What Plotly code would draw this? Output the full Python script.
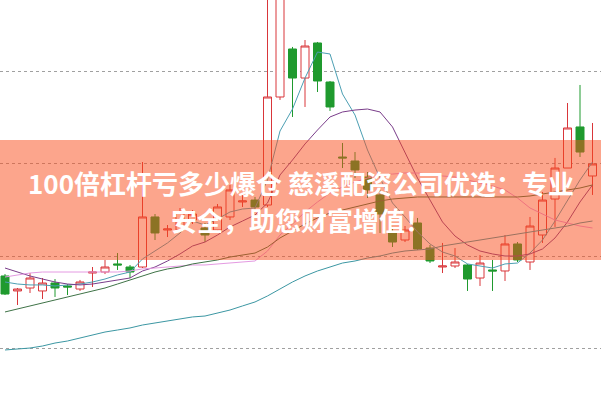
import plotly.graph_objects as go

# ---------------- data ----------------
days = list(range(48))

open_ = [17.84, 16.22, 16.54, 16.22, 17.08, 16.76, 16.43, 18.16, 18.27, 19.14,
         18.81, 18.81, 24.22, 22.81, 22.81, 23.89, 23.03, 22.81, 24.22, 25.84,
         26.05, 25.51, 37.19, 42.38, 39.24, 43.03, 38.81, 30.70, 30.27, 28.54,
         26.60, 22.60, 21.73, 23.57, 20.86, 18.81, 18.92, 19.03, 17.62, 18.49,
         18.38, 21.30, 19.35, 22.27, 26.16, 29.51, 33.95, 28.65]
close = [15.89, 16.43, 17.62, 17.08, 16.54, 16.65, 17.19, 18.27, 18.81, 19.03,
         18.27, 24.22, 22.49, 22.92, 24.76, 24.54, 22.27, 25.30, 27.14, 25.95,
         25.30, 37.19, 52.00, 39.24, 42.70, 38.92, 36.11, 30.60, 29.30, 27.14,
         24.54, 21.51, 22.81, 20.76, 19.46, 18.92, 19.35, 17.51, 19.24, 18.38,
         21.30, 19.57, 23.24, 26.05, 29.51, 33.84, 31.24, 29.95]
high = [18.05, 16.54, 18.16, 17.62, 17.51, 16.97, 17.41, 18.81, 19.57, 20.32,
        19.03, 30.16, 24.54, 23.35, 25.19, 24.97, 23.57, 25.62, 27.68, 26.60,
        26.38, 50.38, 53.08, 42.60, 43.35, 43.14, 38.92, 32.22, 31.24, 29.08,
        27.14, 23.14, 23.24, 24.11, 21.19, 21.41, 20.86, 19.14, 20.11, 19.57,
        22.27, 21.51, 24.22, 26.92, 30.60, 36.54, 38.49, 34.38]
low = [15.78, 14.70, 16.00, 15.35, 15.57, 15.78, 16.22, 16.65, 18.05, 18.49,
       17.62, 18.70, 21.73, 22.05, 22.60, 23.46, 21.51, 22.60, 23.89, 25.30,
       24.97, 25.30, 36.87, 35.03, 36.11, 37.73, 35.68, 29.51, 28.43, 26.27,
       22.49, 20.97, 21.51, 20.65, 19.24, 18.16, 18.70, 16.22, 16.76, 16.22,
       17.30, 19.35, 18.49, 21.41, 23.14, 29.51, 30.70, 26.60]

ma5 = [17.19, 16.97, 16.87, 16.87, 16.76, 16.87, 16.97, 17.19, 17.51, 17.95,
       18.27, 19.68, 20.54, 21.41, 22.49, 23.78, 23.35, 24.00, 24.76, 25.08,
       25.19, 28.22, 33.51, 35.89, 39.24, 42.05, 41.84, 37.51, 35.24, 31.46,
       28.43, 25.73, 24.22, 22.60, 21.30, 20.43, 20.00, 19.14, 18.92, 18.70,
       19.14, 19.24, 20.32, 21.73, 23.78, 26.05, 28.22, 30.16]
ma10 = [18.70, 18.27, 17.84, 17.51, 17.19, 16.97, 16.87, 16.97, 17.19, 17.41,
        17.62, 18.38, 18.81, 19.46, 20.22, 21.08, 21.51, 22.27, 23.14, 23.78,
        24.43, 25.73, 28.76, 30.38, 32.11, 33.62, 35.03, 35.57, 35.78, 35.89,
        35.57, 33.95, 31.14, 28.43, 26.05, 23.68, 22.16, 21.19, 20.54, 20.22,
        20.00, 20.00, 20.22, 20.76, 21.95, 23.68, 25.84, 27.68]
ma20 = [17.73, 17.95, 18.16, 18.27, 18.27, 18.27, 18.27, 18.27, 18.27, 18.27,
        18.38, 18.60, 18.70, 18.81, 18.92, 19.03, 19.03, 19.14, 19.24, 19.35,
        19.46, 20.54, 22.27, 23.46, 24.76, 25.84, 26.81, 27.46, 28.00, 28.43,
        28.76, 28.86, 28.97, 28.97, 28.86, 28.65, 28.54, 28.22, 27.89, 27.57,
        27.14, 26.27, 25.19, 24.54, 23.89, 23.57, 23.24, 23.03]
ma30 = [13.95, 14.27, 14.60, 14.92, 15.24, 15.57, 15.89, 16.22, 16.54, 16.97,
        17.41, 17.84, 18.27, 18.60, 18.81, 19.14, 19.35, 19.57, 19.89, 20.11,
        20.32, 20.97, 21.95, 22.70, 23.46, 24.11, 24.65, 24.97, 25.30, 25.62,
        25.95, 26.16, 26.27, 26.38, 26.38, 26.38, 26.38, 26.38, 26.38, 26.38,
        26.38, 26.38, 26.49, 26.70, 26.92, 27.14, 27.35, 27.68]
ma60 = [9.84, 9.95, 10.05, 10.27, 10.59, 10.81, 11.14, 11.46, 11.78, 12.00,
        12.22, 12.54, 12.76, 12.97, 13.19, 13.41, 13.51, 13.84, 14.16, 14.60,
        15.03, 15.68, 16.43, 17.19, 17.84, 18.38, 18.81, 19.24, 19.46, 19.78,
        20.00, 20.32, 20.54, 20.65, 20.76, 21.08, 21.30, 21.51, 21.73, 21.95,
        22.16, 22.38, 22.60, 22.81, 23.03, 23.24, 23.57, 23.78]

grid_levels = [10, 20, 30, 40]

title_line1 = "100倍杠杆亏多少爆仓 慈溪配资公司优选：专业"
title_line2 = "安全，助您财富增值！"

# ---------------- styles ----------------
RED = "#d9363a"
GREEN = "#1f9a2e"
ma_styles = [
    ("MA5", ma5, "#4c9fb3"),
    ("MA10", ma10, "#7a3d8a"),
    ("MA20", ma20, "#e49ae2"),
    ("MA30", ma30, "#3f7347"),
    ("MA60", ma60, "#3c97a3"),
]

fig = go.Figure()
fig.add_trace(go.Candlestick(
    x=days, open=open_, high=high, low=low, close=close,
    increasing=dict(line=dict(color=RED, width=1), fillcolor="white"),
    decreasing=dict(line=dict(color=GREEN, width=1), fillcolor=GREEN),
    whiskerwidth=0, hoverinfo="skip", showlegend=False,
))
for name, vals, col in ma_styles:
    fig.add_trace(go.Scatter(
        x=days, y=vals, mode="lines", name=name,
        line=dict(color=col, width=1), hoverinfo="skip", showlegend=False,
    ))

# translucent banner with the headline
fig.add_shape(type="rect", xref="paper", yref="paper", x0=0, x1=1,
              y0=0.35, y1=0.65, fillcolor="rgba(250,75,25,0.5)",
              line=dict(width=0), layer="above")
font = dict(family="Noto Sans CJK SC", size=26, color="white")
fig.add_annotation(text="<b>%s</b>" % title_line1, xref="paper", yref="paper",
                   x=0.5, y=1 - 182 / 400, xanchor="center", yanchor="middle",
                   showarrow=False, font=font)
fig.add_annotation(text="<b>%s</b>" % title_line2, xref="paper", yref="paper",
                   x=0.5, y=1 - 219 / 400, xanchor="center", yanchor="middle",
                   showarrow=False, font=font)

fig.update_layout(
    width=601, height=400, margin=dict(l=0, r=0, t=0, b=0),
    paper_bgcolor="white", plot_bgcolor="white",
    boxgap=0.2, boxgroupgap=0.2,
    xaxis=dict(range=[-0.4, 47.68], visible=False, rangeslider=dict(visible=False)),
    yaxis=dict(range=[4.432, 47.676], tickvals=grid_levels, showticklabels=False,
               showgrid=True, gridcolor="#a0a0a0", griddash="dot", gridwidth=1,
               zeroline=False, showline=False),
)

fig.write_html("out.html", config={"displayModeBar": False},
               post_script="document.body.style.margin='0px';document.body.style.overflow='hidden';")
